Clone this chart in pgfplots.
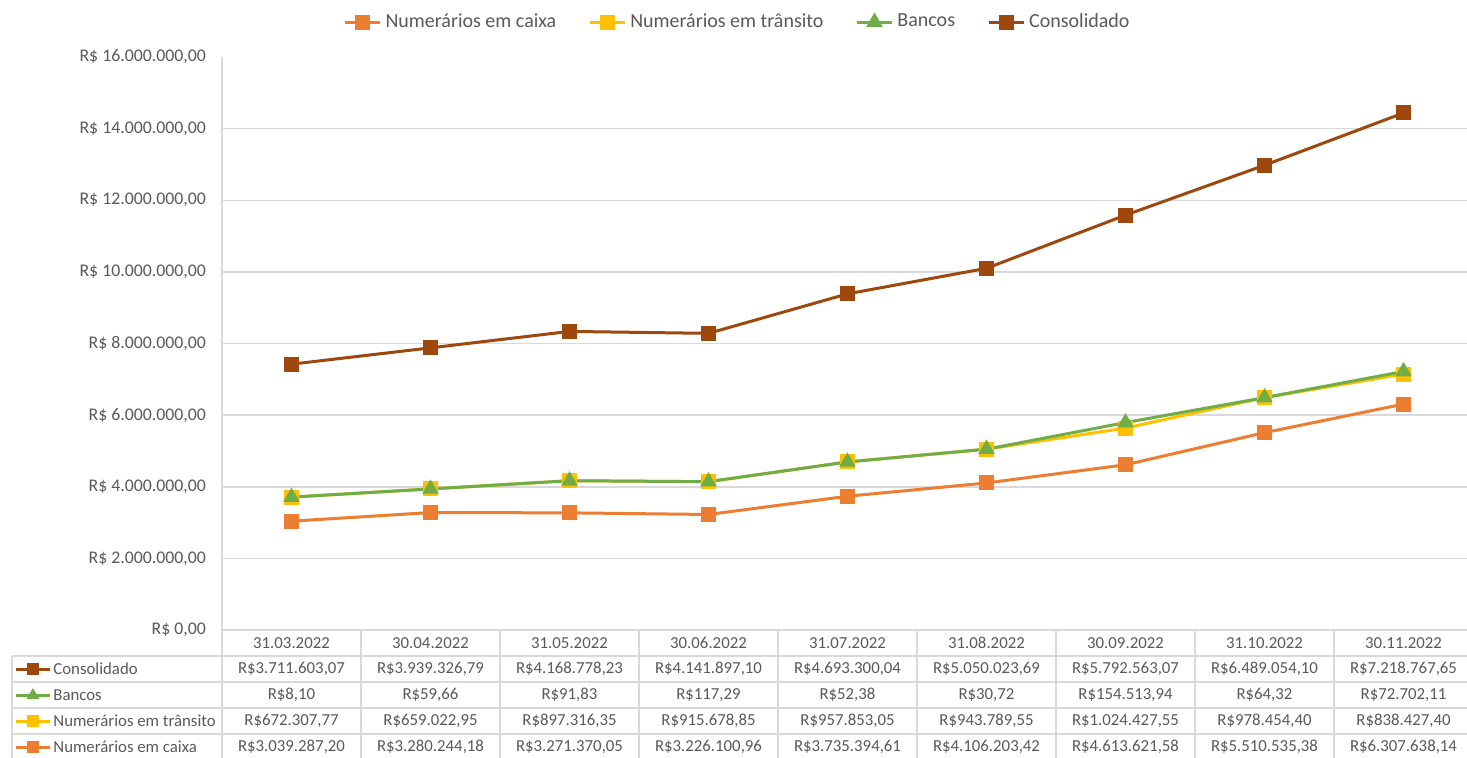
\documentclass[border=0pt]{standalone}
\usepackage{pgfplots}
\pgfplotsset{compat=1.18}
\usepackage{fontspec}
\setmainfont{Carlito}
\definecolor{cCaixa}{HTML}{ED7D31}
\definecolor{cTrans}{HTML}{FFC000}
\definecolor{cBancos}{HTML}{70AD47}
\definecolor{cCons}{HTML}{9E480E}
\definecolor{gridc}{HTML}{D9D9D9}
\definecolor{txt}{HTML}{595959}
\newcommand\tfont{\fontsize{8.4}{10}\selectfont}
\begin{document}
\begin{tikzpicture}
\clip (0pt,0pt) rectangle (733.5pt,-378.5pt);
\begin{axis}[
  at={(111pt,-315pt)}, anchor=south west,
  scale only axis, width=625.5pt, height=286.5pt,
  xmin=-0.5, xmax=8.5, ymin=0, ymax=16000000,
  scaled y ticks=false,
  axis line style={draw=none},
  xtick=\empty,
  ytick={0,2000000,4000000,6000000,8000000,10000000,12000000,14000000},
  yticklabels={\mbox{R\$ 0,00},\mbox{R\$ 2.000.000,00},\mbox{R\$ 4.000.000,00},\mbox{R\$ 6.000.000,00},\mbox{R\$ 8.000.000,00},\mbox{R\$ 10.000.000,00},\mbox{R\$ 12.000.000,00},\mbox{R\$ 14.000.000,00}},
  extra y ticks={16000000},
  extra y tick labels={\mbox{R\$ 16.000.000,00}},
  extra y tick style={grid=none},
  ymajorgrids, grid style={gridc, line width=0.75pt},
  major tick length=0pt,
  yticklabel style={text=txt, font=\fontsize{8.9}{10.5}\selectfont, xshift=-4.5pt},
  clip=false,
  legend columns=4,
  legend style={at={(0.4129,1.061)}, anchor=center, draw=none, fill=none,
    font=\fontsize{10}{12}\selectfont, text=txt,
    /tikz/every even column/.append style={column sep=14pt}},
  legend image code/.code={\draw[mark repeat=2,mark phase=2,#1] plot coordinates {(0pt,0pt)(8.75pt,0pt)(17.5pt,0pt)};},
  every axis plot/.append style={line width=1.5pt, mark options={solid}},
]
% plotted (stacked) levels, as drawn in the chart
\addplot[cCaixa, mark=square*, mark size=3pt] coordinates {
 (0,3039287.20) (1,3280244.18) (2,3271370.05) (3,3226100.96) (4,3735394.61)
 (5,4106203.42) (6,4613621.58) (7,5510535.38) (8,6307638.14)};
\addlegendentry{Numerários em caixa}
\addplot[cTrans, mark=square*, mark size=3pt] coordinates {
 (0,3711594.97) (1,3939267.13) (2,4168686.40) (3,4141779.81) (4,4693247.66)
 (5,5049992.97) (6,5638049.13) (7,6488989.78) (8,7146065.54)};
\addlegendentry{Numerários em trânsito}
\addplot[cBancos, mark=triangle*, mark size=3.3pt] coordinates {
 (0,3711603.07) (1,3939326.79) (2,4168778.23) (3,4141897.10) (4,4693300.04)
 (5,5050023.69) (6,5792563.07) (7,6489054.10) (8,7218767.65)};
\addlegendentry{Bancos}
\addplot[cCons, mark=square*, mark size=3pt] coordinates {
 (0,7423206.14) (1,7878653.58) (2,8337556.46) (3,8283794.20) (4,9386600.08)
 (5,10100047.38) (6,11585126.14) (7,12978108.20) (8,14437535.30)};
\addlegendentry{Consolidado}
\end{axis}
\begin{scope}[x=0.5pt,y=-0.5pt]
  % table grid
  \draw[gridc, line width=0.75pt] (222,57) -- (222,770);
  \foreach \k in {1,...,9} {\draw[gridc, line width=0.75pt] ({222+139*\k},630) -- ({222+139*\k},770);}
  \draw[gridc, line width=0.75pt] (12,656) -- (12,770);
  \draw[gridc, line width=0.75pt] (222,630) -- (1480,630);
  \foreach \yy in {656,682,708,734,760} {\draw[gridc, line width=0.75pt] (12,\yy) -- (1480,\yy);}
  % header
  \foreach \d [count=\i from 0] in {31.03.2022,30.04.2022,31.05.2022,30.06.2022,31.07.2022,31.08.2022,30.09.2022,31.10.2022,30.11.2022}
    {\node[font=\tfont, text=txt] at ({222+139*(\i+0.5)},643) {\d};}
  \foreach \v [count=\i from 0] in {{R\$3.711.603,07},{R\$3.939.326,79},{R\$4.168.778,23},{R\$4.141.897,10},{R\$4.693.300,04},{R\$5.050.023,69},{R\$5.792.563,07},{R\$6.489.054,10},{R\$7.218.767,65}}
    {\node[font=\tfont, text=txt] at ({222+139*(\i+0.5)},669) {\v};}
  \foreach \v [count=\i from 0] in {{R\$8,10},{R\$59,66},{R\$91,83},{R\$117,29},{R\$52,38},{R\$30,72},{R\$154.513,94},{R\$64,32},{R\$72.702,11}}
    {\node[font=\tfont, text=txt] at ({222+139*(\i+0.5)},695) {\v};}
  \foreach \v [count=\i from 0] in {{R\$672.307,77},{R\$659.022,95},{R\$897.316,35},{R\$915.678,85},{R\$957.853,05},{R\$943.789,55},{R\$1.024.427,55},{R\$978.454,40},{R\$838.427,40}}
    {\node[font=\tfont, text=txt] at ({222+139*(\i+0.5)},721) {\v};}
  \foreach \v [count=\i from 0] in {{R\$3.039.287,20},{R\$3.280.244,18},{R\$3.271.370,05},{R\$3.226.100,96},{R\$3.735.394,61},{R\$4.106.203,42},{R\$4.613.621,58},{R\$5.510.535,38},{R\$6.307.638,14}}
    {\node[font=\tfont, text=txt] at ({222+139*(\i+0.5)},747) {\v};}
  % row labels
  \draw[cCons, line width=1.5pt] (16,669) -- (50,669);
  \fill[cCons] (27,663) rectangle (39,675);
  \node[font=\tfont, text=txt, anchor=west, inner sep=0pt] at (53,669) {Consolidado};
  \draw[cBancos, line width=1.5pt] (16,695) -- (50,695);
  \fill[cBancos] (33,688) -- (39.5,699) -- (26.5,699) -- cycle;
  \node[font=\tfont, text=txt, anchor=west, inner sep=0pt] at (53,695) {Bancos};
  \draw[cTrans, line width=1.5pt] (16,721) -- (50,721);
  \fill[cTrans] (27,715) rectangle (39,727);
  \node[font=\tfont, text=txt, anchor=west, inner sep=0pt] at (53,721) {Numerários em trânsito};
  \draw[cCaixa, line width=1.5pt] (16,747) -- (50,747);
  \fill[cCaixa] (27,741) rectangle (39,753);
  \node[font=\tfont, text=txt, anchor=west, inner sep=0pt] at (53,747) {Numerários em caixa};
\end{scope}
\end{tikzpicture}
\end{document}
